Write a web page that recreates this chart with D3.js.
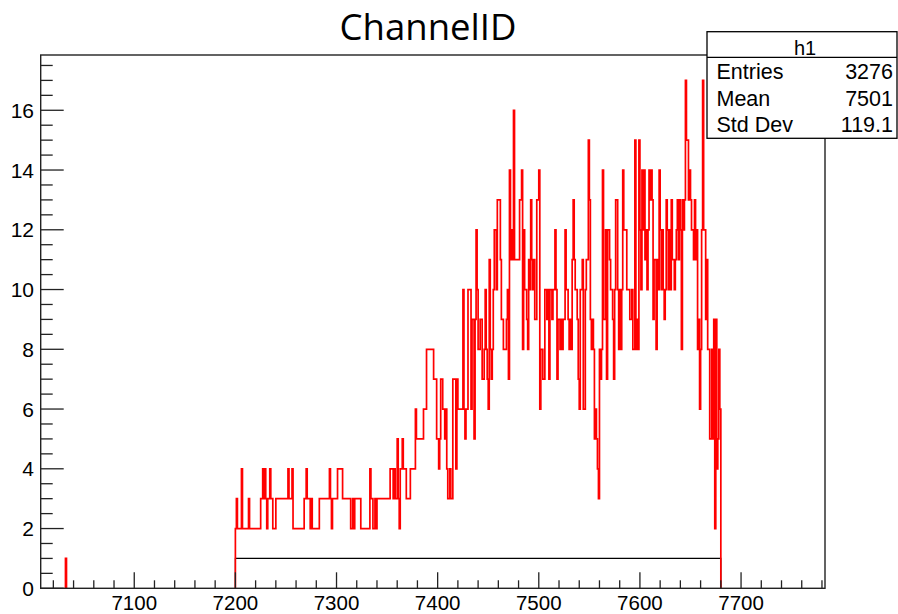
<!DOCTYPE html>
<html>
<head>
<meta charset="utf-8">
<script src="https://cdn.jsdelivr.net/npm/d3@7/dist/d3.min.js"></script>
<style>
  html, body { margin: 0; padding: 0; background: #fff; }
  svg { display: block; }
</style>
</head>
<body>
<svg id="chart" width="898" height="614"></svg>
<script>
// ChannelID histogram: unit-width bins starting at 7200
const binStart = 7200;
const binWidth = 1;
const counts = [
  2,3,2,2,2,2,4,2,2,2,  2,2,2,3,2,2,2,2,2,2,  2,2,2,2,2,3,3,4,3,4,  3,2,3,3,4,3,3,2,2,2,
  3,3,3,3,3,3,3,3,3,3,  3,3,4,3,3,3,4,2,2,2,  2,2,2,2,2,2,2,2,3,3,  4,3,3,3,2,3,2,2,2,2,
  2,2,2,3,3,3,3,3,3,3,  3,3,3,4,3,2,3,3,3,3,  3,4,4,4,4,4,3,3,3,3,  3,3,3,3,2,2,3,2,3,3,
  3,3,3,3,2,2,2,2,2,2,  2,2,2,4,3,3,2,2,3,2,  3,3,3,3,3,3,3,3,3,3,  3,3,3,4,4,4,3,4,3,3,
  5,3,2,4,4,5,4,4,4,3,  3,3,3,4,4,4,4,4,6,5,  5,5,5,5,5,5,6,6,6,8,  8,8,8,8,8,8,7,7,7,5,
  5,4,5,7,7,6,6,5,6,4,  3,3,4,3,3,7,7,7,4,7,  6,6,6,6,6,10,6,5,6,6,  10,10,10,6,9,9,5,9,12,10,
  8,8,9,9,7,7,8,10,8,7,  6,11,8,7,8,10,12,12,10,13,  13,13,11,9,9,8,8,8,9,10,  7,14,11,12,11,16,11,11,11,11,
  11,13,13,14,8,12,10,10,9,8,  11,10,13,11,10,11,9,9,13,13,  14,6,8,8,7,7,10,10,9,10,  7,10,10,9,10,10,12,10,7,9,
  9,8,9,8,9,9,12,10,10,9,  8,9,8,11,13,11,10,10,9,7,  6,10,10,11,6,6,10,11,11,15,  13,9,8,9,8,5,6,5,4,3,
  8,7,8,14,9,9,12,7,12,12,  11,10,10,9,7,10,13,13,10,8,  10,8,10,14,12,12,12,10,10,10,  9,9,10,8,8,15,8,9,8,15,
  12,10,14,12,14,11,12,10,12,14,  13,14,13,9,11,11,8,11,10,14,  12,10,12,10,9,10,13,12,10,12,  10,13,11,11,10,11,12,13,11,13,
  12,8,13,12,13,17,15,15,13,14,  13,12,12,11,13,11,12,8,9,6,  8,12,17,12,12,9,11,8,8,5,  5,8,5,9,2,9,4,5,8,6
];
// isolated low entry
const outlierBins = [7032];
const outlierCounts = [1];

// flat reference level drawn in black
const flatRange = [7200, 7680];
const flatLevel = 1;

// axes
const xDomain = [7007.5, 7783];
const yDomain = [0, 17.85];
const xTickLabels = [7100, 7200, 7300, 7400, 7500, 7600, 7700];
const yTickLabels = [0, 2, 4, 6, 8, 10, 12, 14, 16];

// statistics box
const statsTitle = "h1";
const statNames = ["Entries", "Mean", "Std Dev"];
const statValues = ["3276", "7501", "119.1"];

const chartTitle = "ChannelID";

const svg = d3.select("#chart");
const frame = { left: 40.7, right: 825, top: 55, bottom: 588.3 };

const x = d3.scaleLinear().domain(xDomain).range([frame.left, frame.right]);
const y = d3.scaleLinear().domain(yDomain).range([frame.bottom, frame.top]);

const axisFont = "'Liberation Sans', Arial, Helvetica, sans-serif";

// histogram outline as a step path
function stepPoints(start, values) {
  const pts = [[start, 0]];
  values.forEach((v, i) => pts.push([start + i * binWidth, v]));
  const end = start + values.length * binWidth;
  pts.push([end, values[values.length - 1]]);
  pts.push([end, 0]);
  return pts;
}
const line = d3.line()
  .x(d => x(d[0]))
  .y(d => y(d[1]))
  .curve(d3.curveStepAfter);

const plot = svg.append("g");

// black flat level
plot.append("path")
  .attr("d", line([[flatRange[0], 0], [flatRange[0], flatLevel], [flatRange[1], flatLevel], [flatRange[1], 0]]))
  .attr("fill", "none")
  .attr("stroke", "#000")
  .attr("stroke-width", 1.2);

// red histogram
plot.append("path")
  .attr("d", line(stepPoints(binStart, counts)))
  .attr("fill", "none")
  .attr("stroke", "#ff0000")
  .attr("stroke-width", 1.7)
  .attr("stroke-linejoin", "miter");

outlierBins.forEach((b, i) => {
  plot.append("path")
    .attr("d", line(stepPoints(b, [outlierCounts[i]])))
    .attr("fill", "none")
    .attr("stroke", "#ff0000")
    .attr("stroke-width", 1.7);
});

// frame
const axisColor = "#222";
svg.append("rect")
  .attr("x", frame.left).attr("y", frame.top)
  .attr("width", frame.right - frame.left)
  .attr("height", frame.bottom - frame.top)
  .attr("fill", "none")
  .attr("stroke", axisColor)
  .attr("stroke-width", 1.4);

// x axis ticks (pointing into the frame)
const xAxis = svg.append("g");
d3.range(7020, 7781, 20).forEach(v => {
  const major = v % 100 === 0;
  xAxis.append("line")
    .attr("x1", x(v)).attr("x2", x(v))
    .attr("y1", frame.bottom).attr("y2", frame.bottom - (major ? 16 : 8))
    .attr("stroke", axisColor).attr("stroke-width", 1.3);
});
xAxis.selectAll("text").data(xTickLabels).join("text")
  .attr("x", d => x(d))
  .attr("y", 610)
  .attr("text-anchor", "middle")
  .attr("font-family", axisFont)
  .attr("font-size", 20.5)
  .attr("fill", "#000")
  .text(d => d);

// y axis ticks
const yAxis = svg.append("g");
d3.range(0, 17.6, 0.5).forEach(v => {
  const major = Math.abs(v % 2) < 1e-9;
  yAxis.append("line")
    .attr("x1", frame.left).attr("x2", frame.left + (major ? 23 : 12))
    .attr("y1", y(v)).attr("y2", y(v))
    .attr("stroke", axisColor).attr("stroke-width", 1.3);
});
yAxis.selectAll("text").data(yTickLabels).join("text")
  .attr("x", 34)
  .attr("y", d => y(d))
  .attr("dy", "0.36em")
  .attr("text-anchor", "end")
  .attr("font-family", axisFont)
  .attr("font-size", 21)
  .attr("fill", "#000")
  .text(d => d);

// title
const title = svg.append("text")
  .attr("x", 428)
  .attr("y", 40)
  .attr("text-anchor", "middle")
  .attr("font-family", "'Open Sans', 'Noto Sans', sans-serif")
  .attr("font-size", 36)
  .attr("fill", "#000")
  .text(chartTitle);
const tw = title.node().getComputedTextLength();
if (tw > 0) title.attr("font-size", 36 * 177 / tw);

// statistics box
const box = { x: 707, y: 31.7, w: 190, h: 106.6, sep: 57.3 };
const stats = svg.append("g");
stats.append("rect")
  .attr("x", box.x).attr("y", box.y)
  .attr("width", box.w).attr("height", box.h)
  .attr("fill", "#fff")
  .attr("stroke", "#000")
  .attr("stroke-width", 1.3);
stats.append("line")
  .attr("x1", box.x).attr("x2", box.x + box.w)
  .attr("y1", box.sep).attr("y2", box.sep)
  .attr("stroke", "#000").attr("stroke-width", 1.3);
stats.append("text")
  .attr("x", box.x + box.w / 2 + 3)
  .attr("y", 55)
  .attr("text-anchor", "middle")
  .attr("font-family", axisFont)
  .attr("font-size", 20)
  .text(statsTitle);
const rowY = [79.3, 105.8, 131.5];
statNames.forEach((n, i) => {
  stats.append("text")
    .attr("x", 716.5).attr("y", rowY[i])
    .attr("font-family", axisFont).attr("font-size", 21.5)
    .text(n);
  stats.append("text")
    .attr("x", 893).attr("y", rowY[i])
    .attr("text-anchor", "end")
    .attr("font-family", axisFont).attr("font-size", 21.5)
    .text(statValues[i]);
});
</script>
</body>
</html>
